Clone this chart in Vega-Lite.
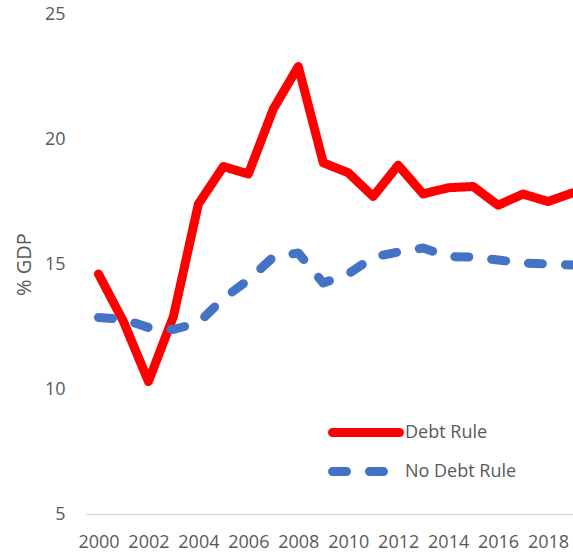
{
  "$schema": "https://vega.github.io/schema/vega-lite/v6.json",
  "width": 487,
  "height": 500,
  "autosize": {"type": "none"},
  "padding": {"left": 86, "top": 14, "right": 0, "bottom": 40},
  "background": "white",
  "config": {
    "view": {"stroke": null},
    "font": "Open Sans",
    "axis": {"labelFont": "Open Sans", "titleFont": "Open Sans"}
  },
  "data": {
    "values": [
      {"year": 2000, "series": "Debt Rule", "value": 14.6},
      {"year": 2001, "series": "Debt Rule", "value": 12.7},
      {"year": 2002, "series": "Debt Rule", "value": 10.3},
      {"year": 2003, "series": "Debt Rule", "value": 12.9},
      {"year": 2004, "series": "Debt Rule", "value": 17.4},
      {"year": 2005, "series": "Debt Rule", "value": 18.9},
      {"year": 2006, "series": "Debt Rule", "value": 18.6},
      {"year": 2007, "series": "Debt Rule", "value": 21.2},
      {"year": 2008, "series": "Debt Rule", "value": 22.9},
      {"year": 2009, "series": "Debt Rule", "value": 19.05},
      {"year": 2010, "series": "Debt Rule", "value": 18.65},
      {"year": 2011, "series": "Debt Rule", "value": 17.7},
      {"year": 2012, "series": "Debt Rule", "value": 18.95},
      {"year": 2013, "series": "Debt Rule", "value": 17.8},
      {"year": 2014, "series": "Debt Rule", "value": 18.05},
      {"year": 2015, "series": "Debt Rule", "value": 18.1},
      {"year": 2016, "series": "Debt Rule", "value": 17.35},
      {"year": 2017, "series": "Debt Rule", "value": 17.8},
      {"year": 2018, "series": "Debt Rule", "value": 17.5},
      {"year": 2019, "series": "Debt Rule", "value": 17.85},
      {"year": 2000, "series": "No Debt Rule", "value": 12.86},
      {"year": 2001, "series": "No Debt Rule", "value": 12.79},
      {"year": 2002, "series": "No Debt Rule", "value": 12.46},
      {"year": 2003, "series": "No Debt Rule", "value": 12.38},
      {"year": 2004, "series": "No Debt Rule", "value": 12.65},
      {"year": 2005, "series": "No Debt Rule", "value": 13.62},
      {"year": 2006, "series": "No Debt Rule", "value": 14.36},
      {"year": 2007, "series": "No Debt Rule", "value": 15.28},
      {"year": 2008, "series": "No Debt Rule", "value": 15.44},
      {"year": 2009, "series": "No Debt Rule", "value": 14.24},
      {"year": 2010, "series": "No Debt Rule", "value": 14.6},
      {"year": 2011, "series": "No Debt Rule", "value": 15.28},
      {"year": 2012, "series": "No Debt Rule", "value": 15.48},
      {"year": 2013, "series": "No Debt Rule", "value": 15.64},
      {"year": 2014, "series": "No Debt Rule", "value": 15.3},
      {"year": 2015, "series": "No Debt Rule", "value": 15.28},
      {"year": 2016, "series": "No Debt Rule", "value": 15.16},
      {"year": 2017, "series": "No Debt Rule", "value": 15.04},
      {"year": 2018, "series": "No Debt Rule", "value": 15.0},
      {"year": 2019, "series": "No Debt Rule", "value": 14.96}
    ]
  },
  "mark": {"type": "line", "strokeWidth": 9, "strokeCap": "round", "strokeJoin": "round", "clip": false},
  "encoding": {
    "x": {
      "field": "year",
      "type": "quantitative",
      "scale": {"domain": [1999.5, 2019], "nice": false, "zero": false},
      "axis": {
        "title": null,
        "values": [2000, 2002, 2004, 2006, 2008, 2010, 2012, 2014, 2016, 2018],
        "format": "d",
        "ticks": false,
        "grid": false,
        "domainColor": "#D9D9D9",
        "domainWidth": 1.5,
        "labelFontSize": 18,
        "labelColor": "#595959",
        "labelPadding": 19,
        "labelFlush": false,
        "labelOverlap": false
      }
    },
    "y": {
      "field": "value",
      "type": "quantitative",
      "scale": {"domain": [5, 25], "nice": false, "zero": false},
      "axis": {
        "title": "% GDP",
        "values": [5, 10, 15, 20, 25],
        "ticks": false,
        "grid": false,
        "domain": false,
        "labelFontSize": 18,
        "labelColor": "#595959",
        "labelPadding": 21,
        "titleFontSize": 20,
        "titleFontWeight": "normal",
        "titleColor": "#595959",
        "titleAngle": 270,
        "titleX": -62,
        "titleY": 250,
        "titleAlign": "center",
        "titleBaseline": "middle"
      }
    },
    "color": {
      "field": "series",
      "type": "nominal",
      "scale": {"domain": ["Debt Rule", "No Debt Rule"], "range": ["#FF0000", "#4472C4"]},
      "legend": {
        "title": null,
        "orient": "none",
        "legendX": 242,
        "legendY": 399,
        "symbolType": "stroke",
        "symbolSize": 4489,
        "symbolStrokeWidth": 9,
        "labelFontSize": 18,
        "labelColor": "#595959",
        "labelOffset": 1,
        "rowPadding": 0,
        "clipHeight": 39,
        "padding": 0,
        "encode": {"symbols": {"update": {"strokeCap": {"value": "round"}}}}
      }
    },
    "strokeDash": {
      "field": "series",
      "type": "nominal",
      "scale": {"domain": ["Debt Rule", "No Debt Rule"], "range": [[1, 0], [14, 23]]},
      "legend": {
        "title": null,
        "orient": "none",
        "legendX": 242,
        "legendY": 399,
        "symbolType": "stroke",
        "symbolSize": 4489,
        "symbolStrokeWidth": 9,
        "labelFontSize": 18,
        "labelColor": "#595959",
        "labelOffset": 1,
        "rowPadding": 0,
        "clipHeight": 39,
        "padding": 0,
        "encode": {"symbols": {"update": {"strokeCap": {"value": "round"}}}}
      }
    }
  }
}
